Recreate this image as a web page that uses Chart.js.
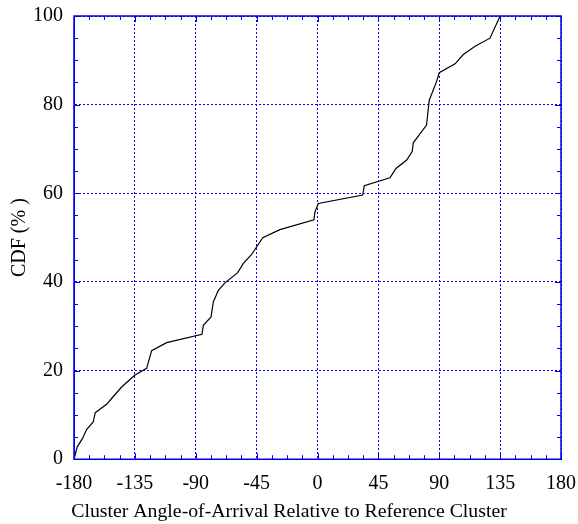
<!DOCTYPE html>
<html>
<head>
<meta charset="utf-8">
<script src="https://cdn.jsdelivr.net/npm/chart.js@4"></script>
<style>
  html, body { margin: 0; padding: 0; background: #fff; }
  #wrap { width: 578px; height: 524px; }
</style>
</head>
<body>
<div id="wrap"><canvas id="cdfChart" width="578" height="524"></canvas></div>
<script>
// angle (deg) relative to reference cluster, and cumulative percentage
const angles = [-180, -177.6, -173.7, -170.7, -165.8, -164.3, -155.9, -152.2, -144.8, -134.9,
  -126.3, -122.6, -111.5, -85.4, -84.4, -78.7, -77.0, -73.3, -68.4, -59.0,
  -54.8, -48.7, -40.5, -27.8, -2.6, -1.9, 0.6, 33.4, 34.6, 53.6,
  58.0, 65.9, 70.0, 70.8, 80.6, 82.6, 88.0, 90.0, 101.7, 107.8,
  116.5, 127.5, 135];
const cdf = [0, 2.8, 4.7, 6.7, 8.4, 10.5, 12.4, 13.7, 16.3, 19.0,
  20.5, 24.5, 26.3, 28.2, 30.2, 32.1, 35.5, 38.1, 39.8, 42.1,
  44.2, 46.2, 50.0, 51.8, 54.0, 55.8, 57.7, 59.6, 61.7, 63.5,
  65.6, 67.5, 69.4, 71.4, 75.4, 81.0, 85.2, 87.2, 89.2, 91.3,
  93.2, 95.0, 100];
const xTicks = [-180, -135, -90, -45, 0, 45, 90, 135, 180];
const yTicks = [0, 20, 40, 60, 80, 100];

const blue = "#0000ee";
const font = { family: "'Liberation Serif', 'DejaVu Serif', serif", size: 20 };

// small inward ticks on all four sides of the frame
const innerTicks = {
  id: "innerTicks",
  afterDraw(chart) {
    const { ctx, chartArea: a, scales } = chart;
    const x = scales.x, y = scales.y;
    ctx.save();
    ctx.strokeStyle = blue;
    ctx.lineWidth = 1;
    ctx.beginPath();
    for (let v = -180; v <= 180; v += 11.25) {
      const px = Math.round(x.getPixelForValue(v)) + 0.5;
      const len = xTicks.includes(v) ? 6 : 4;
      ctx.moveTo(px, a.bottom); ctx.lineTo(px, a.bottom - len);
      ctx.moveTo(px, a.top); ctx.lineTo(px, a.top + len);
    }
    for (let v = 0; v <= 100; v += 5) {
      const py = Math.round(y.getPixelForValue(v)) + 0.5;
      const len = yTicks.includes(v) ? 6 : 4;
      ctx.moveTo(a.left, py); ctx.lineTo(a.left + len, py);
      ctx.moveTo(a.right, py); ctx.lineTo(a.right - len, py);
    }
    ctx.stroke();
    ctx.lineWidth = 1.5;
    ctx.strokeRect(a.left, a.top, a.right - a.left, a.bottom - a.top);
    ctx.restore();
  }
};

const ctx = document.getElementById("cdfChart").getContext("2d");
new Chart(ctx, {
  type: "scatter",
  data: {
    datasets: [
      {
        label: "CDF",
        data: angles.map((a, i) => ({ x: a, y: cdf[i] })),
        showLine: true,
        borderColor: "#000",
        borderWidth: 1.2,
        pointRadius: 0,
        tension: 0,
      },
    ],
  },
  options: {
    responsive: false,
    animation: false,
    layout: { padding: { top: 16, right: 17, left: 17, bottom: 0 } },
    plugins: {
      legend: { display: false },
      tooltip: { enabled: false },
      // x title sits centred on the whole canvas, like the original
      title: {
        display: true,
        position: "bottom",
        text: "Cluster Angle-of-Arrival Relative to Reference Cluster",
        color: "#000",
        font: { family: font.family, size: 19.8, weight: "normal" },
        padding: { top: 2, bottom: 0 },
      },
    },
    scales: {
      x: {
        type: "linear",
        min: -180,
        max: 180,
        afterFit: (s) => {
          s.height = 39;
          s.paddingLeft = 0; s.paddingRight = 0;
        },
        afterBuildTicks: (s) => { s.ticks = xTicks.map((v) => ({ value: v })); },
        ticks: { color: "#000", font: font, padding: 13, maxRotation: 0 },
        grid: { color: blue, lineWidth: 1, drawTicks: false, tickLength: 0 },
        border: { display: true, color: blue, dash: [2, 2], width: 1 },
      },
      y: {
        min: 0,
        max: 100,
        afterFit: (s) => {
          s.width = 57;
          s.paddingTop = 0; s.paddingBottom = 0;
        },
        afterBuildTicks: (s) => { s.ticks = yTicks.map((v) => ({ value: v })); },
        ticks: { color: "#000", font: font, padding: 11 },
        grid: { color: blue, lineWidth: 1, drawTicks: false, tickLength: 0 },
        border: { display: true, color: blue, dash: [2, 2], width: 1 },
        title: {
          display: true,
          text: "CDF (% )",
          color: "#000",
          font: font,
          padding: { top: -9, bottom: 0 },
        },
      },
    },
  },
  plugins: [innerTicks],
});
</script>
</body>
</html>
